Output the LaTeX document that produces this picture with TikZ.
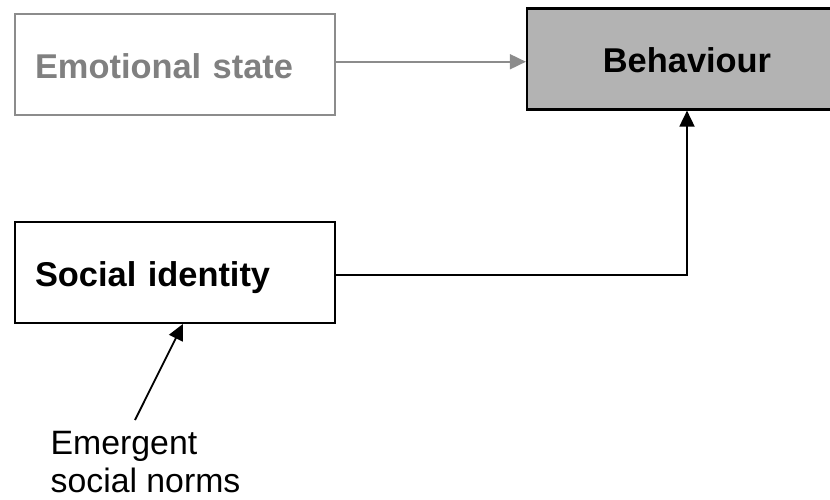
\documentclass[tikz,border=0pt]{standalone}
\usepackage{fontspec}
\setmainfont{Liberation Sans}
\usetikzlibrary{arrows.meta,calc}

\definecolor{softgray}{HTML}{8C8C8C}
\definecolor{labelgray}{HTML}{808080}
\definecolor{boxfill}{HTML}{B3B3B3}

\tikzset{
  box/.style={draw, line width=1.8pt, rectangle, inner sep=0pt,
    minimum width=320pt, minimum height=101pt,
    text height=28pt, text depth=0pt,
    font=\fontsize{34.4}{40}\selectfont\bfseries},
  leftbox/.style={box, text width=280pt, align=left},
  arr/.style={line width=1.8pt, -{Triangle[length=16pt,width=15pt]}},
  note/.style={inner sep=0pt, align=left,
    font=\fontsize{33.8}{38}\selectfont}
}

\begin{document}
\begin{tikzpicture}[x=1pt, y=-1pt]
  \useasboundingbox (0,0) rectangle (830,500);

  % boxes
  \node[leftbox, draw=softgray, text=labelgray] (emo) at (175,64.5) {Emotional state};
  \node[box, fill=boxfill, line width=2.2pt] (beh) at (687,59) {Behaviour};
  \node[leftbox] (soc) at (175,272.5) {Social identity};

  % free label under the social identity box
  \node[note, anchor=north west] (norms) at (50.5,431.5) {Emergent\\social norms};

  % helper points for the connectors
  \coordinate (mid) at ($(emo.east)!0.5!(beh.west)$);
  \coordinate (bend) at (687,275);
  \coordinate (tail) at (135,420);

  % connectors
  \draw[arr, draw=softgray, fill=softgray] (emo.east |- mid) -- (beh.west |- mid);
  \draw[arr] (soc.east |- bend) -- (bend) -- (beh.south);
  \draw[arr] (tail) -- ([xshift=8pt]soc.south);
\end{tikzpicture}
\end{document}
